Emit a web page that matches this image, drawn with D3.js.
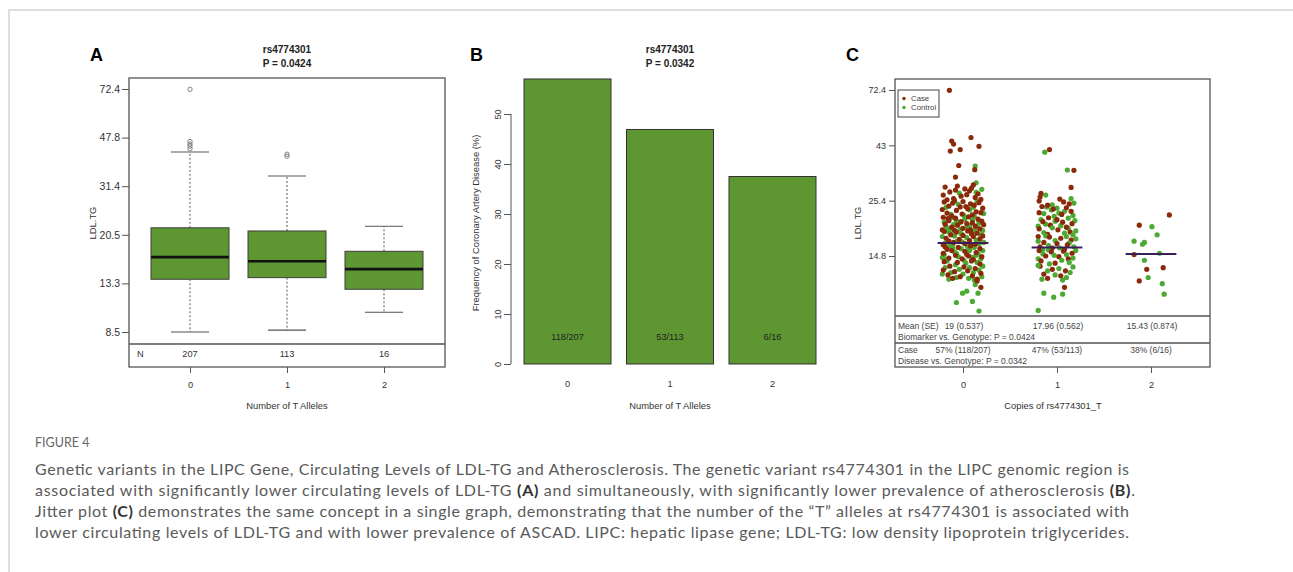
<!DOCTYPE html>
<html lang="en">
<head>
<meta charset="UTF-8">
<title>Figure 4 - LIPC rs4774301</title>
<script src="https://cdnjs.cloudflare.com/ajax/libs/d3/7.8.5/d3.min.js"></script>
<style>
  body { margin: 0; background: #fff; }
  svg { display: block; font-family: "Liberation Sans", Arial, sans-serif; }
  .caption { font-family: Lato, "Open Sans", sans-serif; }
</style>
</head>
<body>
<svg id="fig" width="1293" height="572"></svg>
<script>
// ---------- data ----------
const genotypes = [0, 1, 2];
const groupN = [207, 113, 16];
const caseCount = [118, 53, 6];

// panel A: box plot stats of LDL.TG per genotype
const ldlTicksA = [8.5, 13.3, 20.5, 31.4, 47.8, 72.4];
const whiskerLow = [8.5, 8.65, 10.2];
const q1 = [13.8, 14.0, 12.6];
const median = [16.8, 16.2, 15.1];
const q3 = [21.8, 21.2, 17.7];
const whiskerHigh = [42.2, 34.3, 22.1];
const outliers = [[72.2, 46.2, 45.2, 44.4, 43.4], [41.4, 40.7], []];

// panel B
const freqTicks = [0, 10, 20, 30, 40, 50];

// panel C: jitter points [offset from genotype, LDL.TG]
const ldlTicksC = [14.8, 25.4, 43, 72.4];
const meanLine = [16.8, 16.1, 15.1];
const meanValue = [19, 17.96, 15.43];
const meanSE = [0.537, 0.562, 0.874];

const caseG0 = [
  [-0.145,72.2],[0.085,46.3],[-0.12,44.8],[-0.10,43.5],[0.17,42.6],[-0.03,41.3],[-0.135,40.7],[-0.045,35.5],[0.125,34.1],[-0.08,31.8],
  [-0.19,28.9],[-0.06,29.2],[0.02,28.4],[0.11,29.5],[-0.14,27.6],[0.07,27.9],[0.16,27.1],[-0.21,26.8],[-0.02,26.5],[0.13,26.2],
  [-0.10,25.9],[0.04,26.9],[0.19,25.7],[-0.17,25.6],[0.09,28.6],[-0.08,28.1],
  [-0.20,25.1],[-0.11,24.8],[0.00,25.2],[0.08,24.6],[0.17,24.9],[-0.15,24.1],[-0.03,23.9],[0.12,24.3],[0.21,23.6],[-0.22,23.3],
  [-0.07,23.1],[0.05,23.5],[0.14,22.8],[-0.17,22.5],[-0.01,22.3],[0.10,22.1],[0.19,22.6],[-0.12,21.9],[0.03,24.0],[-0.09,25.4],
  [-0.21,21.6],[-0.08,21.4],[0.06,21.7],[0.16,21.2],[-0.15,20.9],[-0.02,20.7],[0.10,20.5],[0.20,20.8],[-0.19,20.2],[-0.06,20.0],
  [0.04,20.3],[0.13,19.8],[-0.12,19.6],[0.00,19.4],[0.18,19.3],[-0.22,19.1],[-0.09,19.0],[0.08,19.1],[0.22,20.1],[-0.16,21.3],
  [-0.20,18.8],[-0.07,18.7],[0.05,18.9],[0.15,18.5],[-0.13,18.2],[0.00,18.1],[0.11,17.9],[0.21,18.0],[-0.18,17.6],[-0.04,17.4],
  [0.07,17.2],[0.18,17.5],[-0.10,16.9],[0.02,16.7],[0.13,16.6],[-0.21,16.5],[-0.15,17.1],[0.09,18.4],
  [-0.19,16.2],[-0.05,16.1],[0.08,16.3],[0.18,15.9],[-0.12,15.6],[0.02,15.5],[0.14,15.3],[-0.21,15.2],[-0.08,14.9],[0.06,14.8],
  [0.20,14.7],[-0.15,14.5],[-0.01,14.4],[0.11,14.3],[-0.17,15.8],[0.04,15.0],
  [-0.20,14.0],[-0.06,13.9],[0.09,14.1],[0.18,13.7],[-0.14,13.4],[0.01,13.3],[0.13,13.1],[-0.21,12.9],[-0.09,12.7],[0.05,12.8],
  [0.19,12.5],[-0.16,12.3],[-0.03,12.1],[0.10,12.2],[-0.11,11.9],[0.15,11.8],
  [0.19,10.9],[0.15,11.6]
];
const controlG0 = [
  [0.13,35.3],[0.14,30.1],
  [0.14,27.5],[-0.04,27.3],[0.20,28.3],
  [-0.05,24.5],[0.15,25.3],[0.07,23.2],[-0.18,23.8],[0.22,22.4],[-0.13,22.2],[0.01,22.0],[0.11,23.8],
  [-0.13,21.5],[0.02,21.2],[0.12,21.8],[-0.20,20.6],[-0.04,20.4],[0.17,20.4],[-0.10,20.1],[0.07,19.9],[-0.18,19.7],[0.15,19.5],
  [-0.03,19.2],[0.21,19.0],[0.10,21.0],[-0.07,20.9],[0.05,19.6],[-0.14,19.3],
  [-0.16,18.9],[0.10,18.7],[-0.02,18.4],[0.19,18.2],[-0.09,18.0],[0.04,17.7],[-0.22,17.9],[0.14,17.3],[-0.06,17.1],[0.22,16.9],
  [-0.19,16.8],[0.08,16.5],[-0.11,16.4],[0.17,16.7],[-0.01,17.0],[0.12,18.9],[-0.14,18.5],
  [-0.14,16.3],[0.12,16.1],[-0.02,15.9],[0.21,15.6],[-0.09,15.4],[0.07,15.6],[-0.20,15.0],[0.16,15.1],[-0.05,14.7],[0.10,14.6],
  [-0.18,14.3],[0.19,14.4],[0.01,14.2],[-0.11,16.0],[0.14,14.9],[-0.22,14.6],[0.05,16.2],[-0.07,15.2],
  [-0.17,14.1],[0.03,13.8],[0.15,13.9],[-0.08,13.6],[0.21,13.4],[-0.19,13.2],[0.07,13.2],[-0.04,13.0],[0.17,12.9],[-0.13,12.6],
  [0.11,12.6],[-0.22,12.4],[0.00,12.4],[0.20,12.1],[-0.07,12.0],[0.06,11.9],[-0.15,11.8],[0.12,11.7],
  [0.13,11.2],[0.04,10.5],[-0.005,10.3],[0.16,10.3],[0.10,9.5],[-0.07,9.4],[0.17,8.65]
];
const caseG1 = [
  [-0.08,41.3],[0.18,33.9],[0.15,28.8],
  [-0.17,27.2],[-0.18,26.3],[-0.19,25.3],[0.03,25.8],[0.07,25.1],[0.13,24.6],[-0.10,24.3],
  [-0.16,24.0],[-0.04,23.4],[0.10,23.7],[-0.19,22.6],[0.05,22.2],[0.15,22.9],[-0.09,21.5],[0.00,21.1],
  [-0.15,20.7],[0.06,20.6],[0.16,20.3],[-0.07,20.0],[0.10,19.6],[-0.19,19.3],[0.01,19.1],[0.14,18.7],[-0.10,18.3],
  [-0.20,17.9],[-0.08,17.8],[0.04,17.6],[0.15,17.3],[-0.14,16.9],[0.00,16.7],[0.11,16.5],[-0.18,16.2],[-0.05,16.0],[0.08,15.8],
  [-0.19,15.6],[-0.06,15.4],[0.07,15.5],[0.16,15.2],[-0.12,14.8],[0.02,14.7],[0.12,14.4],[-0.17,14.1],[-0.02,13.8],
  [-0.18,13.4],[-0.05,13.0],[0.09,12.8],[-0.14,12.4],[0.04,12.2],[-0.10,11.9],
  [0.08,10.9]
];
const controlG1 = [
  [-0.13,40.3],[0.11,34.0],[0.15,25.9],
  [-0.12,26.8],[0.18,24.8],[-0.05,24.4],
  [-0.11,23.9],[-0.06,23.2],[0.00,23.6],[0.08,22.9],[-0.14,22.4],[0.02,22.5],[0.17,22.0],[-0.03,21.8],[0.12,21.4],[-0.17,21.1],
  [-0.02,20.8],[0.19,20.9],[-0.12,20.2],[0.04,19.9],[-0.20,19.8],[0.12,19.4],[-0.05,19.5],[0.20,18.9],[0.08,18.5],[-0.14,18.6],[0.17,18.2],
  [-0.12,18.0],[0.10,17.9],[0.20,17.5],[-0.02,17.2],[-0.20,17.1],[0.13,16.8],[-0.09,16.4],[0.18,16.2],[0.03,16.0],[-0.15,15.8],
  [-0.09,15.7],[0.20,15.6],[-0.15,15.1],[0.10,15.0],[-0.03,14.9],[0.17,14.5],[-0.20,14.4],[0.05,14.2],[0.13,13.9],[-0.08,13.7],
  [-0.20,13.5],[0.17,13.3],[0.02,13.1],[-0.10,12.8],[0.14,12.6],[-0.02,12.3],[0.10,12.0],[-0.16,11.8],[0.06,11.7],
  [-0.14,10.3],[-0.035,9.9],[0.06,10.2],[-0.20,8.7]
];
const caseG2 = [[0.195,22.1],[-0.125,20.0],[-0.18,15.0],[-0.045,13.0],[0.13,13.2],[-0.125,11.6]];
const controlG2 = [[0.01,19.7],[0.065,18.2],[-0.18,17.1],[-0.09,16.6],[-0.07,16.9],[0.09,15.2],[-0.07,14.2],[-0.03,12.0],[0.12,11.3],[0.14,10.2]];

const captionLines = [
  ["Genetic variants in the LIPC Gene, Circulating Levels of LDL-TG and Atherosclerosis. The genetic variant rs4774301 in the LIPC genomic region is"],
  ["associated with significantly lower circulating levels of LDL-TG ", "(A)", " and simultaneously, with significantly lower prevalence of atherosclerosis ", "(B)", "."],
  ["Jitter plot ", "(C)", " demonstrates the same concept in a single graph, demonstrating that the number of the \u201cT\u201d alleles at rs4774301 is associated with"],
  ["lower circulating levels of LDL-TG and with lower prevalence of ASCAD. LIPC: hepatic lipase gene; LDL-TG: low density lipoprotein triglycerides."]
];

// ---------- drawing ----------
const svg = d3.select("#fig");
const green = "#5e9732";
const caseCol = "#8a2a0a";
const controlCol = "#4caa33";
const ink = "#333";
const frameCol = "#555";

svg.append("path")
  .attr("d", "M9,572V10H1293")
  .attr("fill", "none")
  .attr("stroke", "#d4d4d4")
  .attr("stroke-width", 1.5);

function styleAxis(g, size) {
  g.attr("font-family", null).attr("font-size", size);
  g.select(".domain").remove();
  g.selectAll("line").attr("stroke", frameCol);
  g.selectAll("text").attr("fill", ink);
}

function panelLetter(x, letter) {
  svg.append("text").attr("x", x).attr("y", 61)
    .attr("font-size", 18).attr("font-weight", "bold").text(letter);
}

function plotTitle(cx, p) {
  svg.append("text").attr("x", cx).attr("y", 53).attr("text-anchor", "middle")
    .attr("font-size", 10).attr("font-weight", "bold").attr("fill", "#222").text("rs4774301");
  svg.append("text").attr("x", cx).attr("y", 67).attr("text-anchor", "middle")
    .attr("font-size", 10).attr("font-weight", "bold").attr("fill", "#222").text("P = " + p);
}

function yTitle(x, cy, label) {
  svg.append("text").attr("transform", `translate(${x},${cy}) rotate(-90)`)
    .attr("text-anchor", "middle").attr("font-size", 9.4).attr("fill", ink).text(label);
}

function xTitle(cx, label) {
  svg.append("text").attr("x", cx).attr("y", 409).attr("text-anchor", "middle")
    .attr("font-size", 9.4).attr("fill", ink).text(label);
}

// ===== Panel A: box plot =====
const A = { x0: 129, x1: 445, y0: 78, yTable: 344, y1: 367 };
const xA = d3.scaleLinear().domain([0, 2]).range([190, 384]);
const yA = d3.scaleLog().domain(ldlTicksA)
  .range(ldlTicksA.map((d, i) => 332 - i * 48.6));

panelLetter(90, "A");
plotTitle(287, "0.0424");

const gA = svg.append("g");
genotypes.forEach((g, i) => {
  const cx = xA(g);
  // whiskers
  [[q3[i], whiskerHigh[i]], [q1[i], whiskerLow[i]]].forEach(([a, b]) => {
    gA.append("line").attr("x1", cx).attr("x2", cx).attr("y1", yA(a)).attr("y2", yA(b))
      .attr("stroke", frameCol).attr("stroke-dasharray", "2,2");
    gA.append("line").attr("x1", cx - 19).attr("x2", cx + 19).attr("y1", yA(b)).attr("y2", yA(b))
      .attr("stroke", frameCol).attr("stroke-width", 1.1);
  });
  gA.append("rect").attr("x", cx - 39).attr("width", 78)
    .attr("y", yA(q3[i])).attr("height", yA(q1[i]) - yA(q3[i]))
    .attr("fill", green).attr("stroke", "#3d3d3d").attr("stroke-width", 1);
  gA.append("line").attr("x1", cx - 39).attr("x2", cx + 39)
    .attr("y1", yA(median[i])).attr("y2", yA(median[i]))
    .attr("stroke", "#111").attr("stroke-width", 2.6);
  gA.selectAll(null).data(outliers[i]).enter().append("circle")
    .attr("cx", cx).attr("cy", d => yA(d)).attr("r", 2.2)
    .attr("fill", "none").attr("stroke", "#777").attr("stroke-width", 0.9);
  gA.append("text").attr("x", cx).attr("y", 356.5).attr("text-anchor", "middle")
    .attr("font-size", 9.2).attr("fill", ink).text(groupN[i]);
});
gA.append("text").attr("x", 137).attr("y", 356.5).attr("font-size", 9.2).attr("fill", ink).text("N");

svg.append("rect").attr("x", A.x0).attr("y", A.y0).attr("width", A.x1 - A.x0).attr("height", A.y1 - A.y0)
  .attr("fill", "none").attr("stroke", frameCol).attr("stroke-width", 1.3);
svg.append("line").attr("x1", A.x0).attr("x2", A.x1).attr("y1", A.yTable).attr("y2", A.yTable)
  .attr("stroke", frameCol).attr("stroke-width", 1.3);

svg.append("g").attr("transform", `translate(${A.x0},0)`)
  .call(d3.axisLeft(yA).tickValues(ldlTicksA).tickFormat(d => d).tickSize(7).tickPadding(2))
  .call(g => styleAxis(g, 10.5));
svg.append("g").attr("transform", `translate(0,${A.y1})`)
  .call(d3.axisBottom(xA).tickValues(genotypes).tickFormat(d => d).tickSize(6).tickPadding(8))
  .call(g => styleAxis(g, 9.2));
yTitle(96, 223, "LDL.TG");
xTitle(287, "Number of T Alleles");

// ===== Panel B: bar chart =====
const xB = d3.scaleLinear().domain([0, 2]).range([567.5, 772.5]);
const yB = d3.scaleLinear().domain([0, 50]).range([364, 114]);
const barW = 87;

panelLetter(470, "B");
plotTitle(670, "0.0342");

svg.append("g").selectAll("rect").data(genotypes).enter().append("rect")
  .attr("x", g => xB(g) - barW / 2).attr("width", barW)
  .attr("y", (g, i) => yB(caseCount[i] / groupN[i] * 100))
  .attr("height", (g, i) => yB(0) - yB(caseCount[i] / groupN[i] * 100))
  .attr("fill", green).attr("stroke", "#333").attr("stroke-width", 1);

svg.append("g").selectAll("text").data(genotypes).enter().append("text")
  .attr("x", g => xB(g)).attr("y", 339.5).attr("text-anchor", "middle")
  .attr("font-size", 9.2).attr("fill", "#222")
  .text((g, i) => caseCount[i] + "/" + groupN[i]);

svg.append("g").attr("transform", "translate(511,0)")
  .call(d3.axisLeft(yB).tickValues(freqTicks).tickSize(7))
  .call(g => {
    styleAxis(g, 9.2);
    g.append("line").attr("y1", yB(0)).attr("y2", yB(50)).attr("stroke", frameCol);
    g.selectAll(".tick text").attr("transform", "rotate(-90)")
      .attr("x", 0).attr("y", -10).attr("dy", 0).attr("text-anchor", "middle");
  });

svg.append("g").selectAll("text").data(genotypes).enter().append("text")
  .attr("x", g => xB(g)).attr("y", 387).attr("text-anchor", "middle")
  .attr("font-size", 9.2).attr("fill", ink).text(g => g);
yTitle(479, 223, "Frequency of Coronary Artery Disease (%)");
xTitle(670, "Number of T Alleles");

// ===== Panel C: jitter plot =====
const C = { x0: 895, x1: 1210, y0: 79, yPlot: 316, yMid: 343, y1: 367 };
const xC = d3.scaleLinear().domain([0, 2]).range([963, 1151]);
const yC = d3.scaleLog().domain(ldlTicksC)
  .range(ldlTicksC.map((d, i) => 256 - i * 55.33));

panelLetter(846, "C");

const groupsC = [[caseG0, controlG0], [caseG1, controlG1], [caseG2, controlG2]];
const points = [];
groupsC.forEach(([cs, ct], g) => {
  const n = Math.max(cs.length, ct.length);
  for (let k = 0; k < n; k++) {
    if (k < ct.length) points.push({ x: g + ct[k][0], v: ct[k][1], c: controlCol });
    if (k < cs.length) points.push({ x: g + cs[k][0], v: cs[k][1], c: caseCol });
  }
});
svg.append("g").selectAll("circle").data(points).enter().append("circle")
  .attr("cx", d => xC(d.x)).attr("cy", d => yC(d.v)).attr("r", 2.6)
  .attr("fill", d => d.c);

svg.append("g").selectAll("line").data(genotypes).enter().append("line")
  .attr("x1", g => xC(g - 0.27)).attr("x2", g => xC(g + 0.27))
  .attr("y1", (g, i) => yC(meanLine[i])).attr("y2", (g, i) => yC(meanLine[i]))
  .attr("stroke", "#3a1f5a").attr("stroke-width", 2);

svg.append("rect").attr("x", C.x0).attr("y", C.y0).attr("width", C.x1 - C.x0).attr("height", C.y1 - C.y0)
  .attr("fill", "none").attr("stroke", frameCol).attr("stroke-width", 1.3);
[C.yPlot, C.yMid].forEach(y => svg.append("line").attr("x1", C.x0).attr("x2", C.x1)
  .attr("y1", y).attr("y2", y).attr("stroke", frameCol).attr("stroke-width", 1.3));

// legend
const leg = svg.append("g").attr("transform", "translate(898,90)");
leg.append("rect").attr("width", 41).attr("height", 27).attr("fill", "#fff")
  .attr("stroke", frameCol).attr("stroke-width", 1.1);
[["Case", caseCol], ["Control", controlCol]].forEach(([t, c], i) => {
  leg.append("circle").attr("cx", 6).attr("cy", 8.5 + i * 9).attr("r", 1.7).attr("fill", c);
  leg.append("text").attr("x", 13).attr("y", 11.3 + i * 9).attr("font-size", 7.8).attr("fill", "#444").text(t);
});

// table rows
const tC = svg.append("g").attr("font-size", 8.5).attr("fill", "#444");
tC.append("text").attr("x", 898).attr("y", 328.5).text("Mean (SE)");
tC.append("text").attr("x", 898).attr("y", 339.5).text("Biomarker vs. Genotype: P = 0.0424");
tC.append("text").attr("x", 898).attr("y", 352.5).text("Case");
tC.append("text").attr("x", 898).attr("y", 363.5).text("Disease vs. Genotype: P = 0.0342");
genotypes.forEach((g, i) => {
  tC.append("text").attr("x", xC(g) + 1).attr("y", 328.5).attr("text-anchor", "middle")
    .text(`${meanValue[i]} (${meanSE[i]})`);
  tC.append("text").attr("x", xC(g)).attr("y", 352.5).attr("text-anchor", "middle")
    .text(`${Math.round(caseCount[i] / groupN[i] * 100)}% (${caseCount[i]}/${groupN[i]})`);
});

svg.append("g").attr("transform", `translate(${C.x0},0)`)
  .call(d3.axisLeft(yC).tickValues(ldlTicksC).tickFormat(d => d).tickSize(6).tickPadding(3))
  .call(g => styleAxis(g, 9));
svg.append("g").attr("transform", `translate(0,${C.y1})`)
  .call(d3.axisBottom(xC).tickValues(genotypes).tickFormat(d => d).tickSize(6).tickPadding(8))
  .call(g => styleAxis(g, 9.2));
yTitle(861, 223, "LDL.TG");
xTitle(1053, "Copies of rs4774301_T");

// ===== caption =====
const cap = svg.append("g").attr("class", "caption");
cap.append("text").attr("x", 35).attr("y", 447).attr("font-size", 12.5)
  .attr("fill", "#666").text("FIGURE 4");
captionLines.forEach((parts, i) => {
  const t = cap.append("text").attr("x", 35).attr("y", 475 + i * 21)
    .attr("font-size", 16).attr("fill", "#5a5a5a")
    .attr("textLength", i === 1 ? 1100 : 1094).attr("lengthAdjust", "spacing");
  parts.forEach(p => {
    const bold = /^\([ABC]\)$/.test(p);
    t.append("tspan").attr("font-weight", bold ? "bold" : null)
      .attr("fill", bold ? "#333" : null).text(p);
  });
});
</script>
</body>
</html>
